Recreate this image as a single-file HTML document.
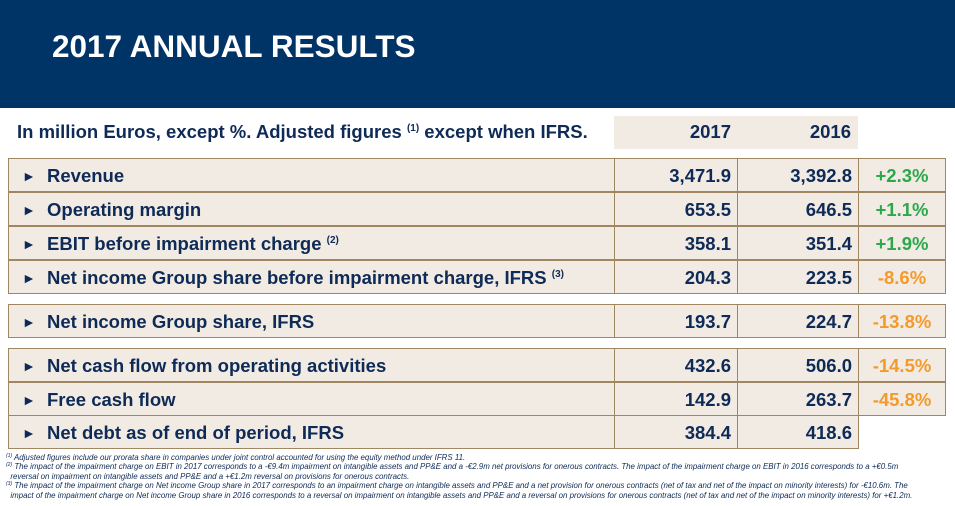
<!DOCTYPE html>
<html><head><meta charset="utf-8"><style>
*{margin:0;padding:0;box-sizing:border-box}
body{width:955px;height:506px;background:#fff;font-family:"Liberation Sans",sans-serif;position:relative;overflow:hidden;color:#0e2a56}
.hdr{position:absolute;left:0;top:0;width:955px;height:108px;background:#003466}
.title{position:absolute;left:52px;top:28px;color:#fff;font-weight:bold;font-size:31.5px}
.sub{position:absolute;left:17px;top:121px;font-weight:bold;font-size:18.5px}
sup{font-size:10px;vertical-align:7px;line-height:0}
.yrs{position:absolute;left:614px;top:116px;width:244px;height:33px;background:#f2ebe3}
.yr{position:absolute;top:121px;font-weight:bold;font-size:18.5px;text-align:right;width:100px}
.row{position:absolute;height:34px}
.c{position:absolute;top:0;height:100%;background:#f2ebe3;border:1.5px solid #a08762;font-weight:bold;font-size:18.5px;line-height:34px}
.lbl{padding-left:38px}
.lbl:before{content:"►";position:absolute;left:13px;font-size:14px}
.v{text-align:right;padding-right:6px}
.p{text-align:center}
.g{color:#2aa84a}.o{color:#f39a2c}
.fn{position:absolute;left:6px;top:453px;font-size:7.9px;font-style:italic;line-height:9.4px;color:#0e2a56;width:950px;white-space:nowrap}
.fn sup{font-size:5px;vertical-align:3px}
</style></head><body>
<div class="hdr"></div>
<div class="title">2017 ANNUAL RESULTS</div>
<div class="sub">In million Euros, except %. Adjusted figures <sup>(1)</sup> except when IFRS.</div>
<div class="yrs"></div>
<div class="yr" style="left:631px">2017</div>
<div class="yr" style="left:751px">2016</div>
<div id="t"></div>
<div class="fn">
<div><sup>(1)</sup> Adjusted figures include our prorata share in companies under joint control accounted for using the equity method under IFRS 11.</div>
<div><sup>(2)</sup> The impact of the impairment charge on EBIT in 2017 corresponds to a -€9.4m impairment on intangible assets and PP&amp;E and a -€2.9m net provisions for onerous contracts. The impact of the impairment charge on EBIT in 2016 corresponds to a +€0.5m<br>&nbsp;&nbsp;reversal on impairment on intangible assets and PP&amp;E and a +€1.2m reversal on provisions for onerous contracts.</div>
<div><sup>(3)</sup> The impact of the impairment charge on Net income Group share in 2017 corresponds to an impairment charge on intangible assets and PP&amp;E and a net provision for onerous contracts (net of tax and net of the impact on minority interests) for -€10.6m. The<br>&nbsp;&nbsp;impact of the impairment charge on Net income Group share in 2016 corresponds to a reversal on impairment on intangible assets and PP&amp;E and a reversal on provisions for onerous contracts (net of tax and net of the impact on minority interests) for +€1.2m.</div>
</div>
<script>
const labels=["Revenue","Operating margin","EBIT before impairment charge <sup>(2)</sup>","Net income Group share before impairment charge, IFRS <sup>(3)</sup>","Net income Group share, IFRS","Net cash flow from operating activities","Free cash flow","Net debt as of end of period, IFRS"];
const v2017=["3,471.9","653.5","358.1","204.3","193.7","432.6","142.9","384.4"];
const v2016=["3,392.8","646.5","351.4","223.5","224.7","506.0","263.7","418.6"];
const pct=["+2.3%","+1.1%","+1.9%","-8.6%","-13.8%","-14.5%","-45.8%",""];
const tops=[158,192,226,260,304,348,382,415];
const t=document.getElementById('t');
labels.forEach((l,i)=>{
 const r=document.createElement('div');r.className='row';r.style.top=tops[i]+'px';r.style.left='0';r.style.width='955px';
 
 
 let h=`<div class="c lbl" style="left:8px;width:607px">${l}</div>`+
 `<div class="c v" style="left:614px;width:124px">${v2017[i]}</div>`+
 `<div class="c v" style="left:737px;width:122px">${v2016[i]}</div>`;
 if(pct[i])h+=`<div class="c p ${pct[i][0]=='+'?'g':'o'}" style="left:858px;width:88px">${pct[i]}</div>`;
 r.innerHTML=h;t.appendChild(r);
});
</script>
</body></html>
